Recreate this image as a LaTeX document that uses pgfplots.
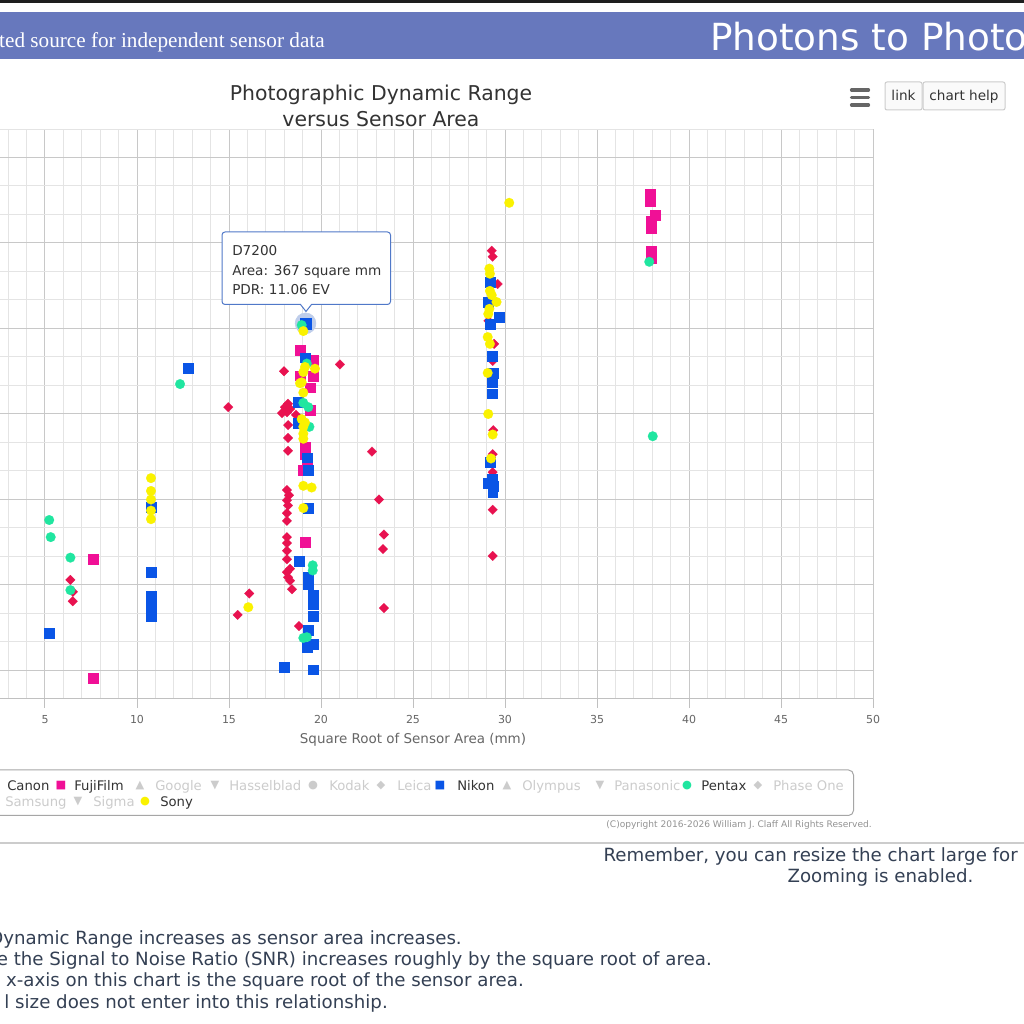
\documentclass[border=0pt]{standalone}
\usepackage{pgfplots}
\pgfplotsset{compat=1.18}
\usepackage{fontspec}
\setmainfont{DejaVu Sans}
\newfontfamily\serifft{Liberation Serif}
\definecolor{canon}{RGB}{232,18,80}
\definecolor{fuji}{RGB}{240,16,150}
\definecolor{nikon}{RGB}{10,85,230}
\definecolor{pentax}{RGB}{32,230,160}
\definecolor{sony}{RGB}{250,242,0}
\definecolor{halo}{RGB}{190,205,235}
\definecolor{banner}{RGB}{103,120,189}
\definecolor{topbar}{RGB}{30,30,30}
\definecolor{gridmajor}{RGB}{200,200,200}
\definecolor{gridminor}{RGB}{228,228,228}
\definecolor{axisgray}{RGB}{192,192,192}
\definecolor{labelgray}{RGB}{102,102,102}
\definecolor{titlecol}{RGB}{51,51,51}
\definecolor{legoff}{RGB}{204,204,204}
\definecolor{para}{RGB}{52,64,84}
\definecolor{tipblue}{RGB}{80,120,200}
\begin{document}
\begin{tikzpicture}[x=0.75pt,y=0.75pt]
\useasboundingbox (0,0) rectangle (1024,1024);
\fill[white] (0,0) rectangle (1024,1024);
\clip (0,0) rectangle (1024,1024);
\begin{scope}[yshift=768pt, y=-0.75pt]
% page header
\fill[topbar] (0,0) rectangle (1024,3.5);
\fill[banner] (0,12) rectangle (1024,59);
\node[anchor=base east, text=white, font=\serifft\fontsize{15.9}{18}\selectfont, inner sep=0pt] at (325,48) {ted source for independent sensor data};
\node[anchor=base west, text=white, font=\fontsize{28}{32}\selectfont, inner sep=0pt] at (710,51) {Photons to Photos};
\end{scope}

\begin{axis}[
  at={(-35.25pt,243.75pt)}, anchor=south west,
  scale only axis, width=690pt, height=427.5pt,
  xmin=0, xmax=50, ymin=6.6667, ymax=13.3333,
  xtick={0,5,...,50}, minor x tick num=4,
  ytick={7,8,...,13},
  minor ytick={6.6668,7.3333,7.6667,8.3333,8.6667,9.3333,9.6667,10.3333,10.6667,11.3333,11.6667,12.3333,12.6667,13.3332},
  grid=both,
  major grid style={draw=gridmajor, line width=0.75pt},
  minor grid style={draw=gridminor, line width=0.75pt},
  axis x line*=bottom, axis y line*=left,
  x axis line style={draw=axisgray, line width=0.75pt, -},
  y axis line style={draw=none, -},
  tick align=outside, major tick length=6.75pt, minor tick length=0pt,
  xtick style={draw=axisgray, line width=0.75pt},
  ytick style={draw=none},
  /pgf/number format/assume math mode=true,
  tick label style={font=\fontsize{8.25}{10}\selectfont, text=labelgray},
  xticklabel style={anchor=base, yshift=-11.6pt},
  xlabel={Square Root of Sensor Area (mm)},
  xlabel style={at={(axis description cs:0.5,0)}, anchor=base, yshift=-33.75pt, font=\fontsize{10.1}{12}\selectfont, text=labelgray},
  title={Photographic Dynamic Range\\versus Sensor Area},
  title style={at={(axis description cs:0.4652,1)}, anchor=south, align=center, inner sep=0pt, yshift=-4.9pt, font=\fontsize{15.3}{19.5}\selectfont, text=titlecol},
]
% Canon
\addplot[only marks, color=canon, mark=square*, mark size=2.55pt, mark options={rotate=45, fill=canon, draw=canon, line width=0.1pt}] coordinates {
(6.38,8.06) (6.52,7.92) (6.51,7.81)
(14.96,10.08) (16.10,7.90) (15.47,7.65)
(17.99,10.50) (18.21,10.12) (18.04,10.08) (18.32,10.06) (17.88,10.01) (18.15,10.02) (18.64,9.99) (18.21,9.87) (18.21,9.72) (18.21,9.57)
(18.15,9.11) (18.26,9.05) (18.15,8.99) (18.21,8.93) (18.15,8.84) (18.15,8.75) (18.15,8.56) (18.15,8.49) (18.15,8.40) (18.15,8.30)
(18.32,8.19) (18.15,8.15) (18.21,8.09) (18.32,8.05) (18.42,7.95) (18.80,7.52)
(21.03,10.58) (22.77,9.56) (23.15,9.00) (23.42,8.59) (23.37,8.42) (23.42,7.73)
(29.28,11.91) (29.33,11.84) (29.60,11.52) (29.10,11.09) (29.41,10.82) (29.33,10.62) (29.36,9.81) (29.33,9.53) (29.33,9.32) (29.33,8.88) (29.33,8.34)
};
% FujiFilm
\addplot[only marks, color=fuji, mark=square*, mark size=3.65pt, mark options={fill=fuji, draw=fuji, line width=0.1pt}] coordinates {
(7.61,8.30) (7.61,6.91)
(18.86,10.75) (19.58,10.63) (18.86,10.45) (19.55,10.44) (19.40,10.31) (19.40,10.05) (19.13,9.61) (19.13,9.53) (19.23,9.42) (19.04,9.34) (19.13,8.50)
(37.88,12.57) (37.88,12.49) (38.15,12.33) (37.92,12.26) (37.92,12.17) (37.92,11.91) (37.92,11.82)
};
% Nikon
\addplot[only marks, color=nikon, mark=square*, mark size=3.65pt, mark options={fill=nikon, draw=nikon, line width=0.1pt}] coordinates {
(12.79,10.54) (5.23,7.44)
(10.76,8.91) (10.76,8.15) (10.76,7.87) (10.76,7.78) (10.76,7.70) (10.76,7.63)
(19.13,10.66) (18.75,10.14) (18.75,9.89) (19.23,9.49) (19.31,9.34) (19.31,8.90) (18.80,8.28) (19.31,8.09) (19.31,8.01)
(19.55,7.88) (19.55,7.78) (19.55,7.64) (19.31,7.47) (19.58,7.31) (19.23,7.27) (17.99,7.04) (19.55,7.01)
(29.18,11.54) (29.06,11.31) (29.69,11.13) (29.18,11.05) (29.28,10.68) (29.36,10.48) (29.28,10.37) (29.28,10.24)
(29.18,9.44) (29.28,9.24) (29.36,9.16) (29.33,9.09) (29.09,9.19)
};
% hover halo and hovered point (D7200)
\addplot[only marks, color=halo, mark=*, mark size=7.8pt, mark options={fill=halo, draw=halo}] coordinates {(19.16,11.06)};
\addplot[only marks, color=nikon, mark=square*, mark size=4pt, mark options={fill=nikon, draw=nikon, line width=0.1pt}] coordinates {(19.16,11.06)};
% Pentax
\addplot[only marks, color=pentax, mark=*, mark size=3.65pt, mark options={fill=pentax, draw=pentax, line width=0.1pt}] coordinates {
(5.23,8.76) (5.31,8.56) (6.38,8.32) (6.38,7.94) (12.34,10.35)
(18.95,11.04) (19.23,10.59) (19.04,10.13) (19.31,10.08) (19.37,9.85) (19.55,8.23) (19.55,8.17) (19.23,7.39) (19.04,7.38)
(37.84,11.78) (38.03,9.74)
};
% Sony
\addplot[only marks, color=sony, mark=*, mark size=3.65pt, mark options={fill=sony, draw=sony, line width=0.1pt}] coordinates {
(10.76,9.25) (10.76,9.10) (10.76,9.00) (10.76,8.87) (10.76,8.77)
(16.05,7.74)
(19.04,10.97) (19.13,10.55) (19.67,10.53) (19.04,10.49) (18.95,10.37) (18.86,10.36) (19.04,10.25) (18.95,9.94) (19.13,9.90)
(19.04,9.85) (19.04,9.77) (19.04,9.71) (19.04,9.16) (19.49,9.14) (19.04,8.90)
(29.15,11.70) (29.18,11.64) (29.18,11.44) (29.28,11.39) (29.54,11.31) (29.15,11.23) (29.09,11.17) (29.06,10.90) (29.18,10.82)
(29.06,10.48) (29.09,10.00) (29.33,9.76) (29.24,9.48)
(30.23,12.47)
};
\end{axis}

\begin{scope}[yshift=768pt, y=-0.75pt]
% tooltip
\draw[draw=tipblue, fill=white, line width=0.75pt, rounded corners=2.25pt]
  (222,232) -- (390.5,232) -- (390.5,304.5) [sharp corners]-- (311.5,304.5) -- (306,311.5) -- (300.5,304.5) [rounded corners=2.25pt]-- (222,304.5) -- cycle;
\begin{scope}[every node/.style={anchor=base west, inner sep=0pt, text=titlecol, font=\fontsize{10.2}{12}\selectfont}]
\node at (232,256) {D7200};
\node at (232,275.5) {Area: 367 square mm};
\node at (232,295) {PDR: 11.06 EV};
\end{scope}

% export menu and buttons
\foreach \yy in {90,97.5,105} \draw[line width=2.4pt, draw=labelgray, line cap=round] (851.5,\yy) -- (868.5,\yy);
\draw[draw=legoff, fill=gray!4, rounded corners=1.5pt, line width=0.75pt] (885,82) rectangle (922,110);
\draw[draw=legoff, fill=gray!4, rounded corners=1.5pt, line width=0.75pt] (923,82) rectangle (1005,110);
\node[anchor=base, inner sep=0pt, text=titlecol, font=\fontsize{10.2}{12}\selectfont] at (903.5,101) {link};
\node[anchor=base, inner sep=0pt, text=titlecol, font=\fontsize{10.2}{12}\selectfont] at (964,101) {chart help};

% legend
\draw[draw=gray!70, rounded corners=3.75pt, line width=0.75pt] (-10,770) rectangle (853.5,815.5);
\begin{scope}[every node/.style={anchor=base west, inner sep=0pt, font=\fontsize{9.9}{12}\selectfont}]
\node[text=titlecol] at (7,791) {Canon};
\node[text=titlecol] at (74,791) {FujiFilm};
\node[text=legoff] at (155,791) {Google};
\node[text=legoff] at (229,791) {Hasselblad};
\node[text=legoff] at (329,791) {Kodak};
\node[text=legoff] at (397,791) {Leica};
\node[text=titlecol] at (457,791) {Nikon};
\node[text=legoff] at (522,791) {Olympus};
\node[text=legoff] at (614,791) {Panasonic};
\node[text=titlecol] at (701,791) {Pentax};
\node[text=legoff] at (773,791) {Phase One};
\node[text=legoff] at (5,807) {Samsung};
\node[text=legoff] at (93,807) {Sigma};
\node[text=titlecol] at (160,807) {Sony};
\end{scope}
\begin{scope}[every node/.style={inner sep=0pt, font=\fontsize{8.5}{9}\selectfont}]
\node[text=fuji] at (61,786) {■};
\node[text=legoff] at (140,786) {▲};
\node[text=legoff] at (215,786) {▼};
\node[text=legoff] at (313,786) {●};
\node[text=legoff] at (381,786) {◆};
\node[text=nikon] at (440,786) {■};
\node[text=legoff] at (507,786) {▲};
\node[text=legoff] at (600,786) {▼};
\node[text=pentax] at (687,786) {●};
\node[text=legoff] at (758,786) {◆};
\node[text=legoff] at (78,802) {▼};
\node[text=sony] at (145,802) {●};
\end{scope}
\node[anchor=base east, inner sep=0pt, text=gray!85, font=\fontsize{6.8}{8}\selectfont] at (872,828) {(C)opyright 2016-2026 William J. Claff All Rights Reserved.};

% page text below the chart
\draw[draw=legoff, line width=1.5pt] (0,843) -- (1024,843);
\begin{scope}[every node/.style={inner sep=0pt, text=para, font=\fontsize{13.65}{16}\selectfont}]
\node[anchor=base east] at (1018,862) {Remember, you can resize the chart large for};
\node[anchor=base] at (880.5,883) {Zooming is enabled.};
\node[anchor=base east] at (462,945) {Dynamic Range increases as sensor area increases.};
\node[anchor=base east] at (712,966) {e the Signal to Noise Ratio (SNR) increases roughly by the square root of area.};
\node[anchor=base east] at (524,987) {x-axis on this chart is the square root of the sensor area.};
\node[anchor=base east] at (388,1008) {l size does not enter into this relationship.};
\end{scope}
\end{scope}
\end{tikzpicture}
\end{document}
